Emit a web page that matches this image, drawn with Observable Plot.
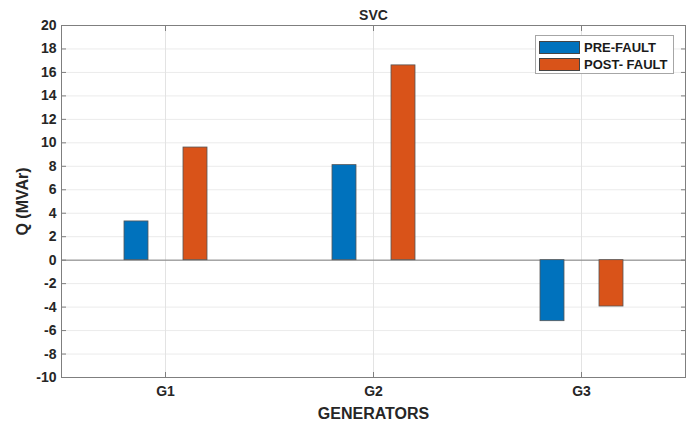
<!DOCTYPE html>
<html>
<head>
<meta charset="utf-8">
<script src="https://cdn.jsdelivr.net/npm/d3@7"></script>
<script src="https://cdn.jsdelivr.net/npm/@observablehq/plot@0.6"></script>
<style>
  html, body { margin: 0; padding: 0; background: #fff; }
  #wrap { position: relative; width: 692px; height: 424px; font-family: "Liberation Sans", Arial, sans-serif; }
  #legend { position: absolute; left: 535px; top: 35px; width: 139px; height: 39px; border: 1px solid #a6a6a6; background: #fff; box-sizing: border-box; }
  .row { position: absolute; left: 3px; display: flex; align-items: center; }
  .sw { width: 41px; height: 13px; border: 1px solid #444; box-sizing: border-box; margin-right: 4px; }
  .lbl { font-weight: bold; font-size: 13px; color: #1a1a1a; }
</style>
</head>
<body>
<div id="wrap"></div>
<script>
const generators = ["G1", "G2", "G3"];
const series = ["PRE-FAULT", "POST- FAULT"];
const preFault = [3.3, 8.1, -5.2];
const postFault = [9.6, 16.6, -3.95];
const colors = ["#0072BD", "#D95319"];
const yTicks = d3.range(-10, 21, 2);

const data = [];
generators.forEach((g, i) => {
  data.push({gen: g, series: series[0], value: preFault[i]});
  data.push({gen: g, series: series[1], value: postFault[i]});
});

const txt = "#262626";
const axisStroke = "#7f7f7f";
const chart = Plot.plot({
  width: 692,
  height: 424,
  marginLeft: 61,
  marginRight: 7,
  marginTop: 25,
  marginBottom: 47,
  style: {fontFamily: "'Liberation Sans', Arial, sans-serif", fontWeight: "bold", fontSize: "14px", color: txt, background: "#fff"},
  fx: {domain: generators, padding: 0},
  x: {domain: series, paddingInner: 0.597, paddingOuter: 1.046, axis: null},
  y: {domain: [-10, 20]},
  color: {domain: series, range: colors},
  marks: [
    Plot.gridY(yTicks, {stroke: "#ebebeb", strokeOpacity: 1}),
    Plot.gridFx({stroke: "#e3e3e3", strokeOpacity: 1}),
    Plot.ruleY([0], {stroke: axisStroke}),
    Plot.barY(data, {fx: "gen", x: "series", y: "value", fill: "series", stroke: "#555", strokeWidth: 0.8}),
    Plot.axisY(yTicks, {anchor: "left", tickSize: -5, tickPadding: 10, stroke: axisStroke, fill: txt, fontSize: 14, tickFormat: d => String(d), label: "Q (MVAr)", labelAnchor: "center", labelOffset: 45, labelArrow: "none"}),
    Plot.axisY(yTicks, {anchor: "right", tickSize: -5, stroke: axisStroke, text: null, label: null}),
    Plot.axisFx({anchor: "bottom", tickSize: -5, tickPadding: 14, stroke: axisStroke, fill: txt, fontSize: 14, label: "GENERATORS", labelAnchor: "center", labelOffset: 41, labelArrow: "none"}),
    Plot.axisFx({anchor: "top", tickSize: -5, stroke: axisStroke, text: null, label: "SVC", labelAnchor: "center", labelOffset: 15, labelArrow: "none"}),
    Plot.frame({anchor: "top", stroke: axisStroke}),
    Plot.frame({anchor: "bottom", stroke: axisStroke}),
    Plot.frame({anchor: "left", stroke: axisStroke, facetAnchor: "left"}),
    Plot.frame({anchor: "right", stroke: axisStroke, facetAnchor: "right"})
  ]
});

// label text sizes
const svg = d3.select(chart);
svg.selectAll('text').each(function() {
  const t = d3.select(this);
  if (t.text() === "Q (MVAr)") t.attr("font-size", 16);
  if (t.text() === "GENERATORS") t.attr("font-size", 16);
  if (t.text() === "SVC") t.attr("font-size", 14);
});

const wrap = document.getElementById("wrap");
wrap.appendChild(chart);

const legend = document.createElement("div");
legend.id = "legend";
series.forEach((s, i) => {
  const row = document.createElement("div");
  row.className = "row";
  row.style.top = (i === 0 ? 4 : 21) + "px";
  const sw = document.createElement("div");
  sw.className = "sw";
  sw.style.background = colors[i];
  const lb = document.createElement("span");
  lb.className = "lbl";
  lb.textContent = s;
  row.appendChild(sw);
  row.appendChild(lb);
  legend.appendChild(row);
});
wrap.appendChild(legend);
</script>
</body>
</html>
